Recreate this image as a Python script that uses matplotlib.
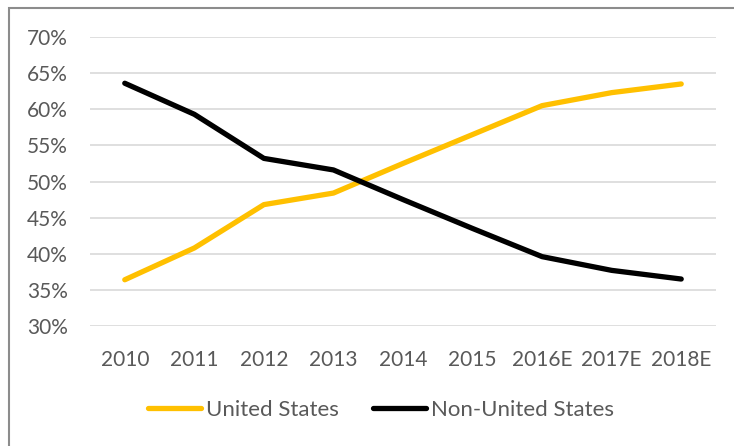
import matplotlib
matplotlib.use("Agg")
import matplotlib.pyplot as plt
from matplotlib.patches import Rectangle

categories = ["2010", "2011", "2012", "2013", "2014", "2015", "2016E", "2017E", "2018E"]
us = [36.4, 40.8, 46.8, 48.4, 52.5, 56.5, 60.5, 62.3, 63.5]
non_us = [63.6, 59.3, 53.2, 51.6, 47.5, 43.5, 39.6, 37.7, 36.5]
yticks = [30, 35, 40, 45, 50, 55, 60, 65, 70]

plt.rcParams['font.family'] = ['Lato', 'DejaVu Sans']
W, H = 734, 446
fig = plt.figure(figsize=(W / 100, H / 100), dpi=100)
ax = fig.add_axes([90 / W, 1 - 326 / H, (716 - 90) / W, (326 - 37) / H])

x = list(range(len(categories)))
ax.plot(x, us, color="#FFC000", lw=3.8, solid_capstyle="round", solid_joinstyle="round", label="United States", zorder=3)
ax.plot(x, non_us, color="#000000", lw=3.8, solid_capstyle="round", solid_joinstyle="round", label="Non-United States", zorder=3)

ax.set_xlim(-0.5, len(categories) - 0.5)
ax.set_ylim(30, 70)
ax.set_yticks(yticks)
ax.set_yticklabels([f"{v}%" for v in yticks])
ax.set_xticks(x)
ax.set_xticklabels(categories)
ax.grid(axis="y", color="#D9D9D9", lw=1.2)
ax.set_axisbelow(True)
for s in ax.spines.values():
    s.set_visible(False)
ax.tick_params(axis="both", length=0, colors="#595959", labelsize=15)
ax.tick_params(axis="y", pad=16)
ax.tick_params(axis="x", pad=17)

leg = fig.legend(loc="center", bbox_to_anchor=(381 / W, 1 - 410 / H), ncol=2, frameon=False,
                 fontsize=16, handlelength=2.4, handletextpad=0.22, columnspacing=1.55,
                 labelcolor="#595959")

fig.patches.append(Rectangle((9 / W, -0.1), 1.2, 1 - 8 / H + 0.1, transform=fig.transFigure,
                             fill=False, edgecolor="#8C8C8C", lw=1.5))

fig.savefig("out.png", dpi=100, facecolor="white")
